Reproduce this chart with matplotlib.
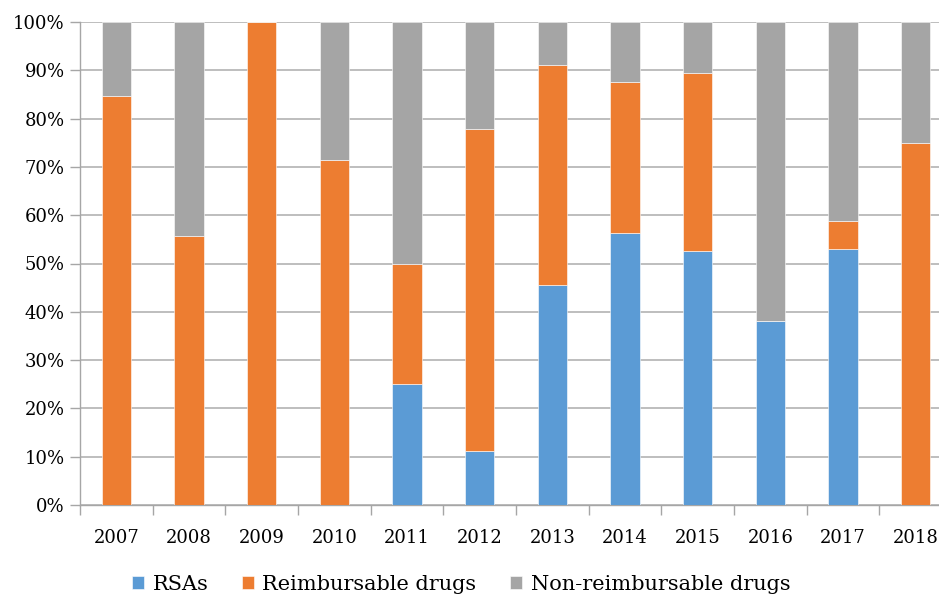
import matplotlib
matplotlib.use("Agg")
import matplotlib.pyplot as plt
import numpy as np
from matplotlib.ticker import FuncFormatter

years = ["2007", "2008", "2009", "2010", "2011", "2012", "2013", "2014", "2015", "2016", "2017", "2018"]
rsas = [0, 0, 0, 0, 25.0, 11.1, 45.5, 56.3, 52.6, 38.1, 53.0, 0]
reimb = [84.6, 55.6, 100, 71.5, 25.0, 66.7, 45.5, 31.3, 36.9, 0, 5.8, 75.0]
nonreimb = [100 - a - b for a, b in zip(rsas, reimb)]

labels = ["RSAs", "Reimbursable drugs", "Non-reimbursable drugs"]
colors = ["#5B9BD5", "#ED7D31", "#A5A5A5"]

plt.rcParams['font.family'] = ['DejaVu Serif']

fig = plt.figure(figsize=(9.39, 5.97), dpi=100)
W, H = 939, 597
left, right, top, bottom = 80, 952, 22, 505
ax = fig.add_axes([left / W, 1 - bottom / H, (right - left) / W, (bottom - top) / H])

x = np.arange(len(years))
bw = 0.4
b0 = np.zeros(len(years))
for vals, lab, col in zip([rsas, reimb, nonreimb], labels, colors):
    ax.bar(x, vals, bw, bottom=b0, color=col, label=lab, edgecolor='white', linewidth=0.4, zorder=3)
    b0 = b0 + np.array(vals)

ax.set_xlim(-0.5, len(years) - 0.5)
ax.set_ylim(0, 100)
ax.set_yticks(np.arange(0, 101, 10))
ax.yaxis.set_major_formatter(FuncFormatter(lambda v, p: f"{int(v)}%"))
ax.set_xticks(x)
ax.set_xticklabels(years)
ax.set_xticks(np.arange(-0.5, len(years), 1), minor=True)
ax.tick_params(axis='x', which='major', length=0, pad=17, labelsize=13)
ax.tick_params(axis='x', which='minor', length=7, color='#a6a6a6', width=1)
ax.tick_params(axis='y', length=7, color='#a6a6a6', width=1, labelsize=13, pad=4)
ax.grid(axis='y', color='#b3b3b3', linewidth=1.2, zorder=0)
for s in ['top', 'right']:
    ax.spines[s].set_visible(False)
for s in ['left', 'bottom']:
    ax.spines[s].set_color('#a6a6a6')
    ax.spines[s].set_linewidth(1)

leg = fig.legend(loc='center', bbox_to_anchor=(461 / W, 1 - 584 / H), ncol=3, frameon=False,
                 fontsize=15, handlelength=0.6, handleheight=0.6, handletextpad=0.4, columnspacing=1.6)

fig.savefig("out.png", dpi=100)
